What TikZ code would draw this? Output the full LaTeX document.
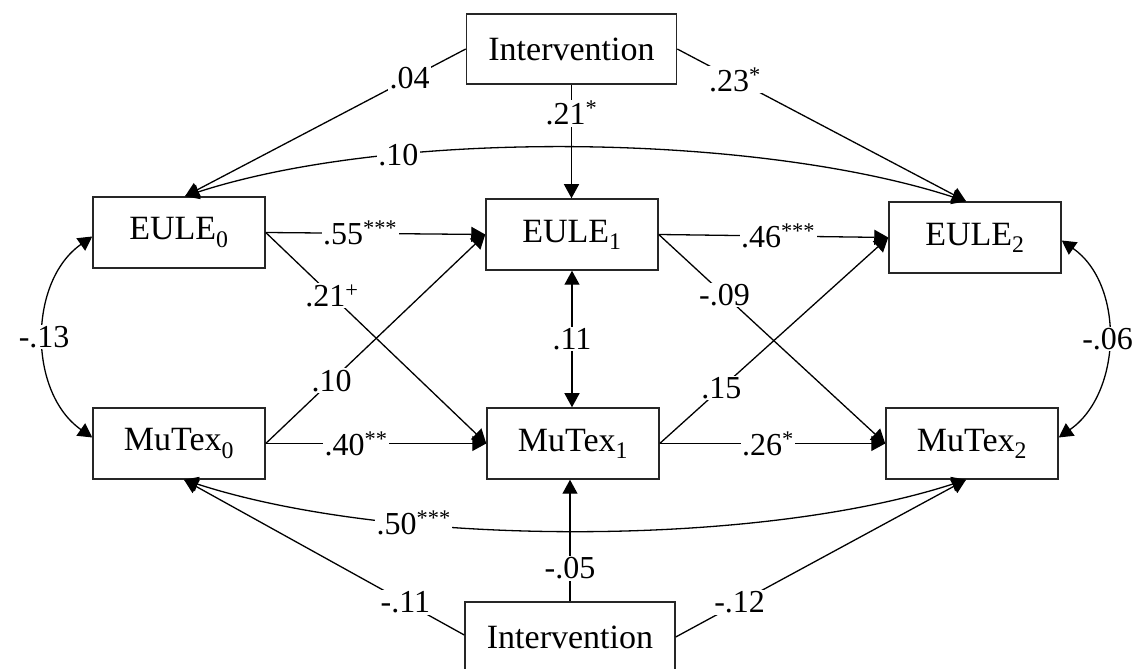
\documentclass[tikz,border=0pt]{standalone}
\usepackage{fontspec}
\setmainfont{Liberation Serif}
\usetikzlibrary{arrows.meta}
\begin{document}
\begin{tikzpicture}[x=1pt,y=1pt,
  box/.style={draw=black!85, line width=1.5pt, fill=white, minimum width=172pt, minimum height=71pt, inner sep=0pt, font=\fontsize{34}{40}\selectfont},
  ibox/.style={box, minimum width=210pt, minimum height=70pt},
  tip/.tip={Triangle[length=14pt,width=15pt]},
  arr/.style={line width=1.3pt, -tip},
  darr/.style={line width=1.3pt, tip-tip},
  lbl/.style={fill=white, inner sep=1.5pt, font=\fontsize{32}{36}\selectfont},
]
\useasboundingbox (0,0) rectangle (1136,669);
% nodes
\node[ibox] (IT) at (571.5,620) {Intervention};
\node[box] (E0) at (179,436.5) {EULE\textsubscript{0}};
\node[box] (E1) at (572,434.5) {EULE\textsubscript{1}};
\node[box] (E2) at (975,431.5) {EULE\textsubscript{2}};
\node[box] (M0) at (179,225.5) {MuTex\textsubscript{0}};
\node[box] (M1) at (573,225.5) {MuTex\textsubscript{1}};
\node[box] (M2) at (972,225.5) {MuTex\textsubscript{2}};
\node[ibox] (IB) at (570,32) {Intervention};
% top intervention paths
\draw[arr] (IT.west) -- node[lbl,pos=0.2] {.04} ([xshift=6pt]E0.north);
\draw[arr] (IT.south) -- node[lbl,pos=0.25] {.21\textsuperscript{*}} (IT.south |- E1.north);
\draw[arr] (IT.east) -- node[lbl,pos=0.2] {.23\textsuperscript{*}} ([xshift=-9pt]E2.north);
% top covariance
\draw[darr] ([xshift=6pt]E0.north) to[out=18,in=162,looseness=0.72] node[lbl,pos=0.29] {.10} ([xshift=-9pt]E2.north);
% cross-lagged paths wave 0 -> 1
\draw[arr] (E0.east) -- node[lbl,pos=0.43] {.55\textsuperscript{***}} (E1.west);
\draw[arr] (E0.east) -- node[lbl,pos=0.3] {.21\textsuperscript{+}} (M1.west);
\draw[arr] (M0.east) -- node[lbl,pos=0.3] {.10} (E1.west);
\draw[arr] (M0.east) -- node[lbl,pos=0.41] {.40\textsuperscript{**}} (M1.west);
% wave 1 covariance
\draw[darr] (E1.south) -- node[lbl,midway] {.11} (E1.south |- M1.north);
% wave 1 -> 2
\draw[arr] (E1.east) -- node[lbl,pos=0.52] {.46\textsuperscript{***}} (E2.west);
\draw[arr] (E1.east) -- node[lbl,pos=0.29] {-.09} (M2.west);
\draw[arr] (M1.east) -- node[lbl,pos=0.27] {.15} (E2.west);
\draw[arr] (M1.east) -- node[lbl,pos=0.48] {.26\textsuperscript{*}} (M2.west);
% side covariances
\draw[darr] ([yshift=-4pt]E0.west) to[out=215,in=145] node[lbl,midway] {-.13} ([yshift=6pt]M0.west);
\draw[darr] ([yshift=-3pt]E2.east) to[out=-35,in=35] node[lbl,midway] {-.06} ([yshift=6pt]M2.east);
% bottom covariance
\draw[darr] ([xshift=5pt]M0.south) to[out=-18,in=-162,looseness=0.72] node[lbl,pos=0.31] {.50\textsuperscript{***}} ([xshift=-6pt]M2.south);
% bottom intervention paths
\draw[arr] ([yshift=2pt]IB.west) -- node[lbl,pos=0.21] {-.11} ([xshift=5pt]M0.south);
\draw[arr] (IB.north) -- node[lbl,pos=0.27] {-.05} (IB.north |- M1.south);
\draw[arr] (IB.east) -- node[lbl,pos=0.22] {-.12} ([xshift=-6pt]M2.south);
\end{tikzpicture}
\end{document}
